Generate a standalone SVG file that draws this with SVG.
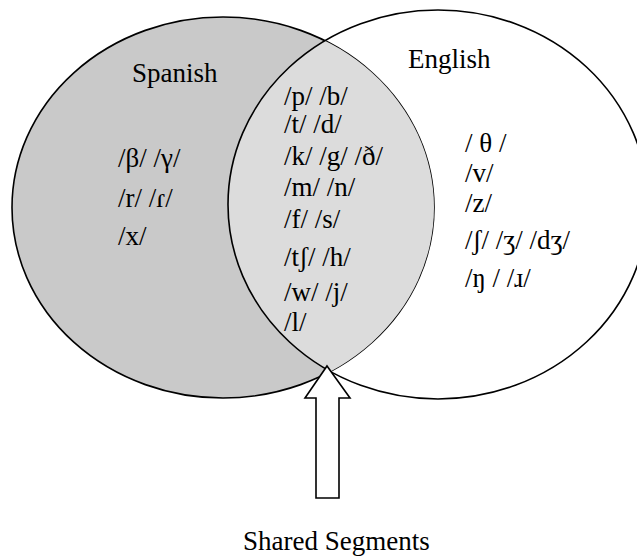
<svg xmlns="http://www.w3.org/2000/svg" width="637" height="557" viewBox="0 0 637 557">
  <style>
    .t { font-family: "Liberation Serif", "Times New Roman", "DejaVu Serif", serif; font-size: 27px; fill: #000; }
    .outline { fill: none; stroke: #000; stroke-width: 1.6; }
  </style>
  <defs>
    <clipPath id="clipSpanish">
      <ellipse cx="223" cy="207.5" rx="211" ry="190.5"/>
    </clipPath>
  </defs>
  <rect width="637" height="557" fill="#fff"/>
  <g id="spanish">
    <ellipse cx="223" cy="207.5" rx="211" ry="190.5" fill="#c9c9c9" stroke="#000" stroke-width="1.6"/>
    <text class="t" x="132" y="82">Spanish</text>
    <text class="t" x="118" y="167">/β/ /γ/</text>
    <text class="t" x="118" y="207">/r/ /ɾ/</text>
    <text class="t" x="118" y="245">/x/</text>
  </g>
  <g id="shared">
    <ellipse cx="438" cy="204.5" rx="210" ry="194.5" fill="#dcdcdc" clip-path="url(#clipSpanish)"/>
    <text class="t" x="284" y="105">/p/ /b/</text>
    <text class="t" x="284" y="133">/t/ /d/</text>
    <text class="t" x="284" y="165">/k/ /g/ /ð/</text>
    <text class="t" x="284" y="196">/m/ /n/</text>
    <text class="t" x="284" y="228">/f/ /s/</text>
    <text class="t" x="284" y="266">/tʃ/ /h/</text>
    <text class="t" x="284" y="301">/w/ /j/</text>
    <text class="t" x="284" y="331">/l/</text>
  </g>
  <g id="english">
    <ellipse class="outline" cx="438" cy="204.5" rx="210" ry="194.5"/>
    <text class="t" x="408" y="68">English</text>
    <text class="t" x="465" y="152">/ θ /</text>
    <text class="t" x="465" y="182">/v/</text>
    <text class="t" x="465" y="212">/z/</text>
    <text class="t" x="465" y="249">/ʃ/ /ʒ/ /dʒ/</text>
    <text class="t" x="465" y="287">/ŋ / /ɹ/</text>
  </g>
  <g id="connectors">
    <polygon points="327,366 350,398 339,398 339,498 316,498 316,398 305,398" fill="#fff" stroke="#000" stroke-width="1.6" stroke-linejoin="miter"/>
  </g>
  <g id="shared-label">
    <text class="t" x="243" y="550">Shared Segments</text>
  </g>
</svg>
